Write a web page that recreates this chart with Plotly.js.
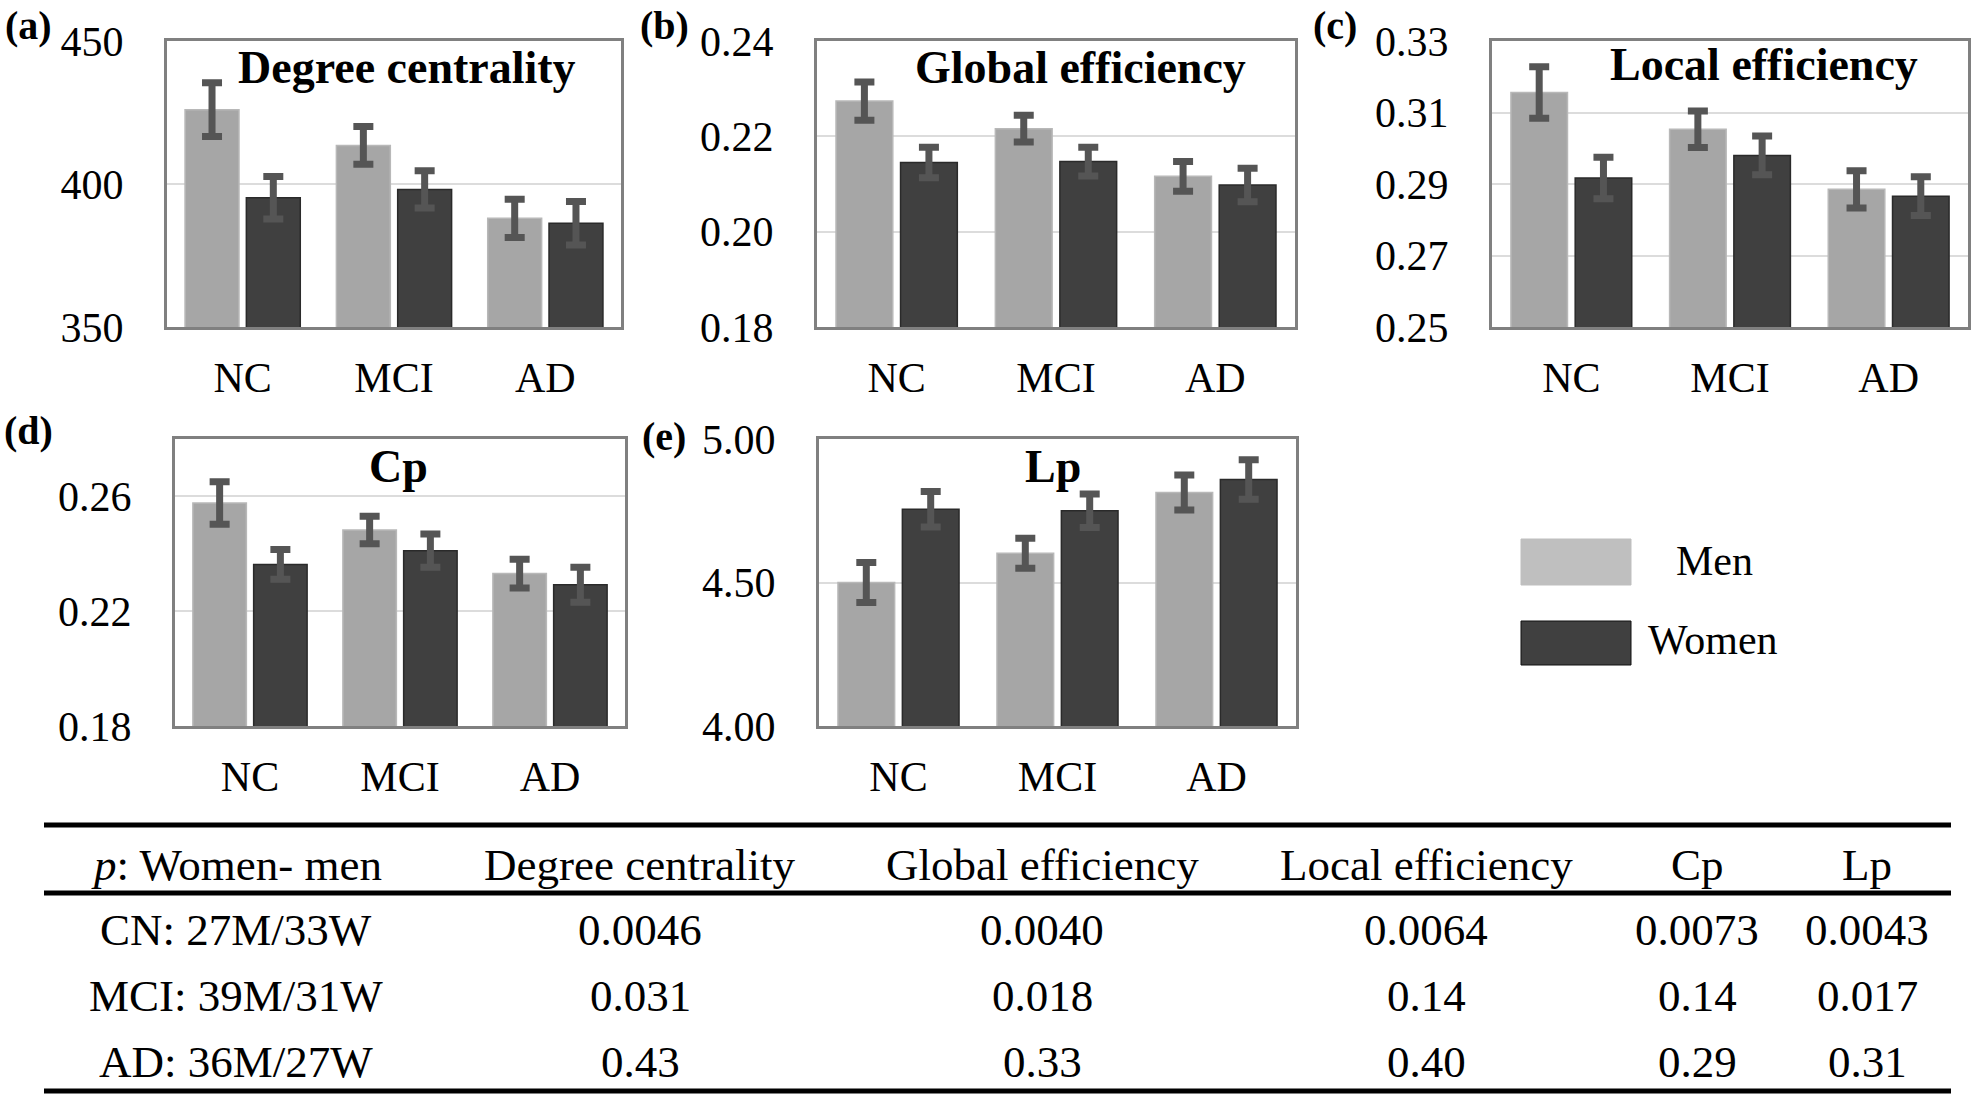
<!DOCTYPE html>
<html>
<head>
<meta charset="utf-8">
<script src="https://cdn.plot.ly/plotly-3.0.1.min.js"></script>
<style>
  html, body { margin: 0; padding: 0; background: #fff; }
  #chart { width: 1974px; height: 1097px; }
</style>
</head>
<body>
<div id="chart"></div>
<script>
// --- values ---
const groups = ['NC', 'MCI', 'AD'];
const sexes = ['Men', 'Women'];

const degreeMen = [426.0, 413.5, 388.0];
const degreeMenErr = [9.4, 6.6, 6.7];
const degreeWomen = [395.2, 398.1, 386.3];
const degreeWomenErr = [7.4, 6.5, 7.6];

const globalMen = [0.2274, 0.2216, 0.2116];
const globalMenErr = [0.0040, 0.0028, 0.0031];
const globalWomen = [0.2145, 0.2147, 0.2098];
const globalWomenErr = [0.0032, 0.0030, 0.0035];

const localMen = [0.3156, 0.3053, 0.2885];
const localMenErr = [0.0072, 0.0051, 0.0052];
const localWomen = [0.2917, 0.2980, 0.2866];
const localWomenErr = [0.0058, 0.0054, 0.0054];

const cpMen = [0.2577, 0.2483, 0.2331];
const cpMenErr = [0.0074, 0.0048, 0.0050];
const cpWomen = [0.2363, 0.2411, 0.2292];
const cpWomenErr = [0.0052, 0.0058, 0.0061];

const lpMen = [4.500, 4.602, 4.814];
const lpMenErr = [0.070, 0.052, 0.061];
const lpWomen = [4.755, 4.750, 4.859];
const lpWomenErr = [0.062, 0.058, 0.069];

const panelTitles = ['Degree centrality', 'Global efficiency', 'Local efficiency', 'Cp', 'Lp'];
const panelLetters = ['(a)', '(b)', '(c)', '(d)', '(e)'];

const ticksDegree = [350, 400, 450];
const ticksGlobal = [0.18, 0.20, 0.22, 0.24];
const ticksLocal = [0.25, 0.27, 0.29, 0.31, 0.33];
const ticksCp = [0.18, 0.22, 0.26];
const ticksLp = [4.00, 4.50, 5.00];

const tableHeader = ['<i>p</i>: Women- men', 'Degree centrality', 'Global efficiency', 'Local efficiency', 'Cp', 'Lp'];
const tableRowLabels = ['CN: 27M/33W', 'MCI: 39M/31W', 'AD: 36M/27W'];
const pValuesCN = ['0.0046', '0.0040', '0.0064', '0.0073', '0.0043'];
const pValuesMCI = ['0.031', '0.018', '0.14', '0.14', '0.017'];
const pValuesAD = ['0.43', '0.33', '0.40', '0.29', '0.31'];

// --- page geometry (pixels) ---
const W = 1974, H = 1097;
const px = x => x / W;
const py = y => 1 - y / H;

const FONT = 'Liberation Serif';
const MEN_COLOR = '#a6a6a6';
const WOMEN_COLOR = '#404040';
const ERR_COLOR = '#555555';

const panels = [
    { men: degreeMen, menErr: degreeMenErr, women: degreeWomen, womenErr: degreeWomenErr,
      ticks: ticksDegree, fmt: v => v.toFixed(0), range: [350, 450],
      box: [167, 621, 41, 327], titleAt: [407, 67], letterAt: [28, 25] },
    { men: globalMen, menErr: globalMenErr, women: globalWomen, womenErr: globalWomenErr,
      ticks: ticksGlobal, fmt: v => v.toFixed(2), range: [0.18, 0.24],
      box: [817, 1295, 41, 327], titleAt: [1080, 67], letterAt: [664, 25] },
    { men: localMen, menErr: localMenErr, women: localWomen, womenErr: localWomenErr,
      ticks: ticksLocal, fmt: v => v.toFixed(2), range: [0.25, 0.33],
      box: [1492, 1968, 41, 327], titleAt: [1764, 65], letterAt: [1335, 25] },
    { men: cpMen, menErr: cpMenErr, women: cpWomen, womenErr: cpWomenErr,
      ticks: ticksCp, fmt: v => v.toFixed(2), range: [0.18, 0.28],
      box: [175, 625, 439, 726], titleAt: [398, 467], letterAt: [28, 430] },
    { men: lpMen, menErr: lpMenErr, women: lpWomen, womenErr: lpWomenErr,
      ticks: ticksLp, fmt: v => v.toFixed(2), range: [4.0, 5.0],
      box: [819, 1296, 439, 726], titleAt: [1053, 467], letterAt: [664, 437] }
];

const traces = [];
const layout = {
    width: W, height: H,
    margin: { l: 0, r: 0, t: 0, b: 0 },
    paper_bgcolor: '#ffffff',
    plot_bgcolor: '#ffffff',
    showlegend: false,
    barmode: 'group',
    bargap: 0.19,
    bargroupgap: 0.12,
    font: { family: FONT, color: '#000000', size: 40 },
    annotations: [],
    shapes: []
};

panels.forEach((p, i) => {
    const n = i === 0 ? '' : String(i + 1);
    const xa = 'x' + n, ya = 'y' + n;
    const series = [
        [p.men, p.menErr, MEN_COLOR, '#b8b8b8'],
        [p.women, p.womenErr, WOMEN_COLOR, '#2a2a2a']
    ];
    series.forEach(([vals, errs, color, edge], k) => {
        traces.push({
            type: 'bar',
            name: sexes[k],
            x: groups,
            y: vals,
            xaxis: xa, yaxis: ya,
            marker: { color: color, line: { color: edge, width: 1.5 } },
            error_y: { type: 'data', array: errs, visible: true, color: ERR_COLOR, thickness: 7, width: 10 }
        });
    });

    const [l, r, t, b] = p.box;
    layout['xaxis' + n] = {
        domain: [px(l), px(r)],
        anchor: ya,
        type: 'category',
        showline: true, mirror: true, linecolor: '#808080', linewidth: 3,
        ticks: '', showgrid: false,
        tickfont: { family: FONT, size: 42, color: '#000' },
        ticklabelstandoff: 12,
        fixedrange: true
    };
    layout['yaxis' + n] = {
        domain: [py(b), py(t)],
        anchor: xa,
        range: p.range,
        tickvals: p.ticks,
        ticktext: p.ticks.map(p.fmt),
        showline: true, mirror: true, linecolor: '#808080', linewidth: 3,
        gridcolor: '#dcdcdc', gridwidth: 2,
        zeroline: false,
        ticks: '',
        tickfont: { family: FONT, size: 42, color: '#000' },
        ticklabelstandoff: 32,
        fixedrange: true
    };

    layout.annotations.push({
        text: '<b>' + panelTitles[i] + '</b>',
        xref: 'paper', yref: 'paper',
        x: px(p.titleAt[0]), y: py(p.titleAt[1]),
        xanchor: 'center', yanchor: 'middle',
        showarrow: false,
        font: { family: FONT, size: 46, color: '#000' }
    });
    layout.annotations.push({
        text: '<b>' + panelLetters[i] + '</b>',
        xref: 'paper', yref: 'paper',
        x: px(p.letterAt[0]), y: py(p.letterAt[1]),
        xanchor: 'center', yanchor: 'middle',
        showarrow: false,
        font: { family: FONT, size: 40, color: '#000' }
    });
});

// --- legend swatches ---
const legendItems = [
    { color: '#bfbfbf', edge: '#bfbfbf', box: [1521, 1631, 539, 585], textAt: [1714, 561] },
    { color: WOMEN_COLOR, edge: '#111111', box: [1521, 1631, 621, 665], textAt: [1713, 640] }
];
legendItems.forEach((it, k) => {
    layout.shapes.push({
        type: 'rect', xref: 'paper', yref: 'paper',
        x0: px(it.box[0]), x1: px(it.box[1]), y0: py(it.box[3]), y1: py(it.box[2]),
        fillcolor: it.color, line: { color: it.edge, width: 1 }
    });
    layout.annotations.push({
        text: sexes[k], xref: 'paper', yref: 'paper',
        x: px(it.textAt[0]), y: py(it.textAt[1]),
        xanchor: 'center', yanchor: 'middle', showarrow: false,
        font: { family: FONT, size: 42, color: '#000' }
    });
});

// --- p-value table ---
const colCenters = [236, 640, 1042, 1426, 1697, 1867];
const rowCenters = [865, 930, 996, 1062];
const ruleYs = [825, 893, 1091];
ruleYs.forEach(y => {
    layout.shapes.push({
        type: 'line', xref: 'paper', yref: 'paper',
        x0: px(44), x1: px(1951), y0: py(y), y1: py(y),
        line: { color: '#000', width: 5 }
    });
});
const tableRows = [
    tableHeader,
    [tableRowLabels[0]].concat(pValuesCN),
    [tableRowLabels[1]].concat(pValuesMCI),
    [tableRowLabels[2]].concat(pValuesAD)
];
tableRows.forEach((row, ri) => {
    row.forEach((txt, ci) => {
        layout.annotations.push({
            text: txt, xref: 'paper', yref: 'paper',
            x: px(colCenters[ci]), y: py(rowCenters[ri]),
            xanchor: 'center', yanchor: 'middle', showarrow: false,
            font: { family: FONT, size: 45, color: '#000' }
        });
    });
});

Plotly.newPlot('chart', traces, layout, { staticPlot: true, displayModeBar: false });
</script>
</body>
</html>
